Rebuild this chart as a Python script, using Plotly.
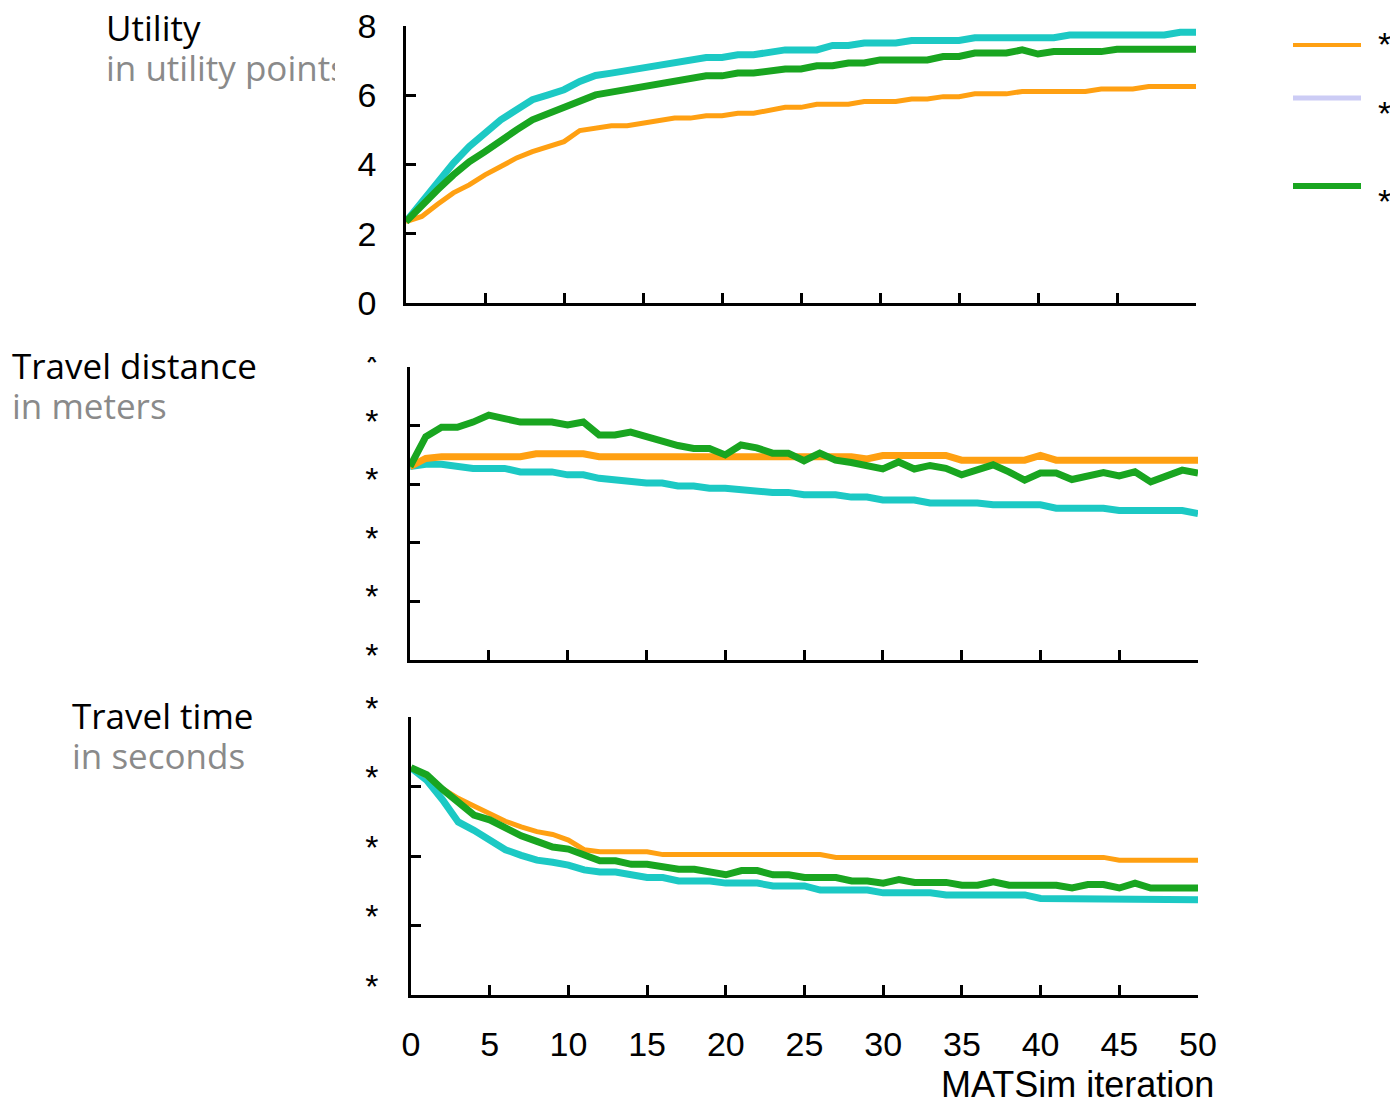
import plotly.graph_objects as go

# ---------------- data ----------------
iterations = list(range(51))
x_tick_vals = list(range(0, 51, 5))
x_tick_text = [str(v) for v in x_tick_vals]

utility_ticks = [0, 2, 4, 6, 8]
distance_ticks = [0, 1, 2, 3, 4, 5]
time_ticks = [0, 1, 2, 3, 4]
hidden_label = "*"

utility_orange = [2.35, 2.50, 2.85, 3.18, 3.41, 3.70, 3.94, 4.19, 4.37, 4.52,
                  4.66, 4.98, 5.06, 5.12, 5.12, 5.19, 5.27, 5.34, 5.34, 5.41,
                  5.41, 5.48, 5.48, 5.58, 5.65, 5.65, 5.74, 5.74, 5.74, 5.82,
                  5.82, 5.82, 5.89, 5.89, 5.96, 5.96, 6.04, 6.04, 6.04, 6.11,
                  6.11, 6.11, 6.11, 6.11, 6.18, 6.18, 6.18, 6.25, 6.25, 6.25, 6.25]
utility_cyan = [2.35, 2.93, 3.51, 4.04, 4.52, 4.90, 5.29, 5.58, 5.87, 6.01,
                6.16, 6.40, 6.57, 6.64, 6.71, 6.78, 6.86, 6.93, 7.00, 7.09,
                7.09, 7.17, 7.17, 7.26, 7.31, 7.31, 7.31, 7.44, 7.44, 7.51,
                7.51, 7.51, 7.58, 7.58, 7.58, 7.58, 7.66, 7.66, 7.66, 7.66,
                7.66, 7.66, 7.74, 7.74, 7.74, 7.74, 7.74, 7.74, 7.74, 7.82, 7.82]
utility_green = [2.35, 2.83, 3.27, 3.70, 4.08, 4.37, 4.71, 5.00, 5.29, 5.48,
                 5.63, 5.87, 6.01, 6.09, 6.16, 6.23, 6.31, 6.39, 6.47, 6.56,
                 6.56, 6.64, 6.64, 6.71, 6.76, 6.76, 6.85, 6.85, 6.93, 6.93,
                 7.02, 7.02, 7.02, 7.02, 7.12, 7.12, 7.22, 7.22, 7.22, 7.31,
                 7.19, 7.26, 7.26, 7.26, 7.26, 7.33, 7.33, 7.33, 7.33, 7.33, 7.33]

distance_orange = [3.30, 3.44, 3.47, 3.47, 3.47, 3.47, 3.47, 3.47, 3.52, 3.52,
                   3.52, 3.52, 3.47, 3.47, 3.47, 3.47, 3.47, 3.47, 3.47, 3.47,
                   3.47, 3.47, 3.47, 3.47, 3.47, 3.47, 3.47, 3.47, 3.47, 3.43,
                   3.49, 3.49, 3.49, 3.49, 3.49, 3.41, 3.41, 3.41, 3.41, 3.41,
                   3.49, 3.41, 3.41, 3.41, 3.41, 3.41, 3.41, 3.41, 3.41, 3.41, 3.41]
distance_cyan = [3.30, 3.34, 3.34, 3.29, 3.27, 3.27, 3.27, 3.21, 3.21, 3.21,
                 3.16, 3.16, 3.10, 3.07, 3.07, 3.02, 3.02, 2.97, 2.97, 2.93,
                 2.93, 2.90, 2.90, 2.86, 2.86, 2.82, 2.82, 2.82, 2.78, 2.78,
                 2.73, 2.73, 2.73, 2.68, 2.68, 2.68, 2.68, 2.65, 2.65, 2.65,
                 2.65, 2.59, 2.59, 2.59, 2.59, 2.55, 2.55, 2.55, 2.55, 2.55, 2.50]
distance_green = [3.30, 3.81, 3.97, 3.97, 4.06, 4.18, 4.12, 4.06, 4.06, 4.06,
                  4.01, 4.06, 3.84, 3.84, 3.89, 3.81, 3.71, 3.66, 3.61, 3.61,
                  3.50, 3.67, 3.62, 3.53, 3.53, 3.40, 3.53, 3.41, 3.37, 3.32,
                  3.26, 3.38, 3.26, 3.32, 3.27, 3.16, 3.23, 3.33, 3.21, 3.07,
                  3.19, 3.19, 3.08, 3.14, 3.20, 3.14, 3.21, 3.04, 3.14, 3.24, 3.19]

time_orange = [3.27, 3.15, 2.97, 2.83, 2.72, 2.61, 2.50, 2.42, 2.35, 2.31,
               2.23, 2.09, 2.06, 2.06, 2.06, 2.06, 2.02, 2.02, 2.02, 2.02,
               2.02, 2.02, 2.02, 2.02, 2.02, 2.02, 2.02, 1.98, 1.98, 1.98,
               1.98, 1.98, 1.98, 1.98, 1.98, 1.98, 1.98, 1.98, 1.98, 1.98,
               1.98, 1.98, 1.98, 1.98, 1.98, 1.94, 1.94, 1.94, 1.94, 1.94, 1.94]
time_cyan = [3.27, 3.09, 2.81, 2.49, 2.37, 2.23, 2.09, 2.01, 1.94, 1.91,
             1.87, 1.80, 1.77, 1.77, 1.73, 1.69, 1.69, 1.64, 1.64, 1.64,
             1.61, 1.61, 1.61, 1.57, 1.57, 1.57, 1.51, 1.51, 1.51, 1.51,
             1.47, 1.47, 1.47, 1.47, 1.44, 1.44, 1.44, 1.44, 1.44, 1.44,
             1.39, 1.39, 1.39, 1.39, 1.39, 1.39, 1.39, 1.37, 1.37, 1.37, 1.37]
time_green = [3.27, 3.17, 2.96, 2.76, 2.59, 2.52, 2.40, 2.29, 2.21, 2.13,
              2.10, 2.01, 1.93, 1.93, 1.88, 1.88, 1.84, 1.81, 1.81, 1.77,
              1.73, 1.79, 1.79, 1.73, 1.73, 1.69, 1.69, 1.69, 1.64, 1.64,
              1.61, 1.66, 1.62, 1.62, 1.62, 1.58, 1.58, 1.63, 1.58, 1.58,
              1.58, 1.58, 1.54, 1.59, 1.59, 1.54, 1.61, 1.54, 1.54, 1.54, 1.54]

panel_titles = ["Utility", "Travel distance", "Travel time"]
panel_units = ["in utility points", "in meters", "in seconds"]
legend_labels = ["*", "*", "*"]
x_title = "MATSim iteration"

# ---------------- style ----------------
# the page body has an 8px margin: the figure is placed at (8, 8), so all
# reference pixel positions are shifted by that offset and the figure is
# made small enough that the page does not overflow the window
OFF = 8
W, H = 1398 - OFF, 1118 - 2 * OFF
ORANGE = "#FFA012"
CYAN = "#1CC9C4"
GREEN = "#19A520"
LAVENDER = "#CCCCF5"
GRAY = "#8A8A8A"
TICK_FONT = "Liberation Sans, Arial, sans-serif"
TITLE_FONT = "Open Sans, Liberation Sans, sans-serif"


def fx(p):
    return (p - OFF) / W


def fy(p):
    return 1 - (p - OFF) / H


fig = go.Figure()

panels = [
    ("", utility_cyan, utility_orange, utility_green, (7, 5, 7)),
    ("2", distance_cyan, distance_orange, distance_green, (7, 7, 7)),
    ("3", time_cyan, time_orange, time_green, (7, 5, 7)),
]
for suffix, cy, orv, gr, widths in panels:
    for vals, col, w in ((cy, CYAN, widths[0]), (orv, ORANGE, widths[1]), (gr, GREEN, widths[2])):
        fig.add_trace(go.Scatter(
            x=iterations, y=vals, mode="lines",
            line=dict(color=col, width=w),
            xaxis="x" + suffix, yaxis="y" + suffix,
            showlegend=False, hoverinfo="skip",
        ))

axis_common = dict(
    showline=True, linecolor="black", linewidth=2.5,
    ticks="inside", ticklen=10, tickwidth=2.5, tickcolor="black",
    showgrid=False, zeroline=False, fixedrange=True,
    ticklabeloverflow="allow",
)

x_common = dict(axis_common, range=[0, 50], tickvals=x_tick_vals, ticktext=x_tick_text)

fig.update_layout(
    width=W, height=H,
    margin=dict(l=0, r=0, t=0, b=0, autoexpand=False),
    paper_bgcolor="white", plot_bgcolor="white",
    xaxis=dict(x_common, domain=[fx(406), fx(1196)], anchor="y", showticklabels=False),
    yaxis=dict(axis_common, domain=[fy(303), fy(26)], anchor="x", range=[0, 8],
               tickvals=utility_ticks, ticktext=[str(v) for v in utility_ticks],
               tickfont=dict(family=TICK_FONT, size=34, color="black"),
               ticklabelstandoff=20),
    xaxis2=dict(x_common, domain=[fx(410), fx(1198)], anchor="y2", showticklabels=False),
    yaxis2=dict(axis_common, domain=[fy(660), fy(367)], anchor="x2", range=[0, 5],
                tickvals=distance_ticks, ticktext=[hidden_label] * len(distance_ticks),
                tickfont=dict(family=TICK_FONT, size=34, color="black"),
                ticklabelstandoff=22, ticklabelshift=-5),
    xaxis3=dict(x_common, domain=[fx(411), fx(1198)], anchor="y3",
                tickfont=dict(family=TICK_FONT, size=34, color="black"),
                ticklabelstandoff=17),
    yaxis3=dict(axis_common, domain=[fy(995), fy(717)], anchor="x3", range=[0, 4],
                tickvals=time_ticks, ticktext=[hidden_label] * len(time_ticks),
                tickfont=dict(family=TICK_FONT, size=34, color="black"),
                ticklabelstandoff=23, ticklabelshift=-9),
)

# panel titles (main line black, unit line gray)
title_pos = [(104, 27, 229), (10, 365, None), (70, 715, None)]
for (px_, py_, wclip), main, sub in zip(title_pos, panel_titles, panel_units):
    fig.add_annotation(
        x=fx(px_), y=fy(py_), xref="paper", yref="paper",
        xanchor="left", yanchor="middle", align="left", showarrow=False,
        text=main, font=dict(family=TITLE_FONT, size=35, color="black"),
    )
    ann = dict(
        x=fx(px_), y=fy(py_ + 40), xref="paper", yref="paper",
        xanchor="left", yanchor="middle", align="left", showarrow=False,
        text=sub, font=dict(family=TITLE_FONT, size=35, color=GRAY),
    )
    if wclip:
        ann["width"] = wclip
    fig.add_annotation(**ann)

# x-axis title
fig.add_annotation(
    x=fx(1216), y=fy(1084), xref="paper", yref="paper",
    xanchor="right", yanchor="middle", showarrow=False,
    text=x_title, font=dict(family=TICK_FONT, size=36, color="black"),
)

# legend (manual)
legend_items = [(ORANGE, 45, 4), (LAVENDER, 98, 5), (GREEN, 186, 6)]
label_y = [44, 113, 201]
for (col, ly, lw), lab, ty in zip(legend_items, legend_labels, label_y):
    fig.add_shape(type="line", xref="paper", yref="paper",
                  x0=fx(1293), x1=fx(1361), y0=fy(ly), y1=fy(ly),
                  line=dict(color=col, width=lw))
    fig.add_annotation(x=fx(1376), y=fy(ty), xref="paper", yref="paper",
                       xanchor="left", yanchor="middle", showarrow=False,
                       text=lab, font=dict(family=TICK_FONT, size=34, color="black"))

# mask hiding the upper part of the top tick label of the middle panel
fig.add_shape(type="rect", xref="paper", yref="paper",
              x0=fx(340), x1=fx(400), y0=fy(357), y1=fy(330),
              fillcolor="white", line=dict(width=0), layer="above")

fig.write_html("out.html")
